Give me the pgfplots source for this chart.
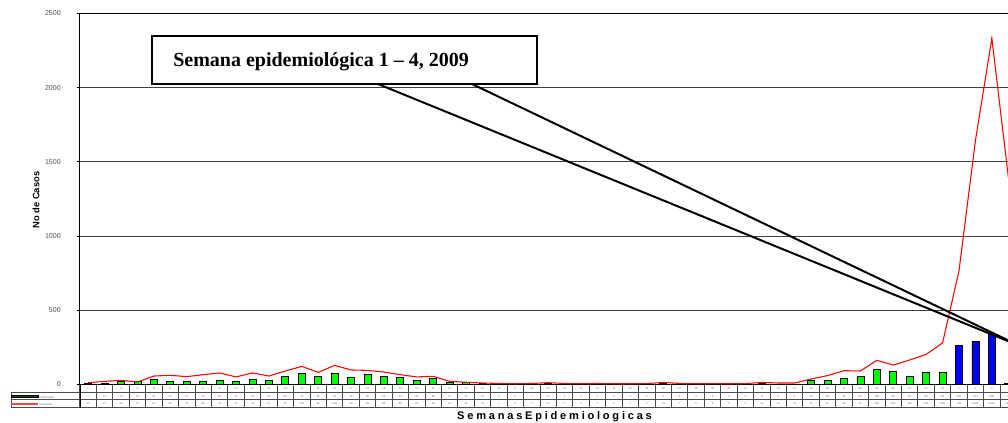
\documentclass[border=0pt]{standalone}
\usepackage{fontspec}
\setmainfont{Liberation Sans}
\newfontfamily\serifbf{Liberation Serif}
\usepackage{pgfplots}
\pgfplotsset{compat=1.18}
\usepackage{pgfplotstable}
\definecolor{barg}{RGB}{0,255,0}
\definecolor{barb}{RGB}{0,0,255}
\definecolor{keyg}{RGB}{0,80,0}
\definecolor{keyr}{RGB}{255,70,70}
\pgfplotstableread{
x c s
0 7 12
1 10 21
2 20 28
3 20 17
4 37 57
5 21 62
6 21 53
7 24 66
8 30 78
9 21 51
10 35 78
11 26 57
12 55 91
13 75 122
14 53 82
15 78 129
16 48 98
17 66 95
18 55 84
19 51 66
20 28 51
21 39 55
22 17 21
23 17 15
24 10 10
25 5 7
26 4 5
27 7 7
28 10 12
29 4 7
30 4 5
31 7 7
32 4 5
33 4 5
34 3 6
35 5 14
36 3 7
37 4 5
38 5 6
39 3 5
40 4 6
41 6 14
42 3 10
43 3 10
44 30 37
45 28 60
46 41 93
47 53 91
48 100 163
49 89 131
50 55 165
51 80 203
52 84 280
53 264 766
54 293 1644
55 345 2333
56 8 1400
}\data
\begin{document}
\begin{tikzpicture}
\path[use as bounding box] (0,0) rectangle (756pt,317.25pt);
\clip (0,0) rectangle (756pt,317.25pt);
\begin{axis}[
  at={(60pt,28.875pt)}, anchor=south west,
  scale only axis, width=714.7pt, height=278.25pt,
  xmin=-0.5, xmax=57.5, ymin=0, ymax=2500,
  ytick={0,500,...,2500},
  tick pos=left,
  ymajorgrids, grid style={black!75, line width=0.8pt},
  axis line style={black, line width=0.75pt},
  tick align=outside, major tick length=2.25pt,
  ytick style={black, line width=0.75pt},
  /pgf/number format/assume math mode=true,
  /pgf/number format/1000 sep={},
  scaled y ticks=false,
  yticklabel style={font=\fontsize{5.3}{6}\selectfont, text=black!70, inner sep=0pt, xshift=-12pt},
  xtick={0,...,56},
  xticklabels={{1\\7\\12},{2\\10\\21},{3\\20\\28},{4\\20\\17},{5\\37\\57},{6\\21\\62},{7\\21\\53},{8\\24\\66},{9\\30\\78},{10\\21\\51},{11\\35\\78},{12\\26\\57},{13\\55\\91},{14\\75\\122},{15\\53\\82},{16\\78\\129},{17\\48\\98},{18\\66\\95},{19\\55\\84},{20\\51\\66},{21\\28\\51},{22\\39\\55},{23\\17\\21},{24\\17\\15},{25\\10\\10},{26\\5\\7},{27\\4\\5},{28\\7\\7},{29\\10\\12},{30\\4\\7},{31\\4\\5},{32\\7\\7},{33\\4\\5},{34\\4\\5},{35\\3\\6},{36\\5\\14},{37\\3\\7},{38\\4\\5},{39\\5\\6},{40\\3\\5},{41\\4\\6},{42\\6\\14},{43\\3\\10},{44\\3\\10},{45\\30\\37},{46\\28\\60},{47\\41\\93},{48\\53\\91},{49\\100\\163},{50\\89\\131},{51\\55\\165},{52\\80\\203},{53\\84\\280},{1\\264\\766},{2\\293\\1644},{3\\345\\2333},{4\\8\\1400}},
  major x tick style={draw=none},
  minor xtick={-0.5,0.5,...,57.5},
  minor x tick style={black!70, line width=0.75pt},
  minor tick length=17.375pt,
  xticklabel style={font=\fontsize{2}{5.7}\selectfont, text=black!60, align=center, anchor=north, inner sep=0pt},
]
\addplot[ybar, bar width=5.25pt, bar shift=0pt, fill=barg, draw=black, line width=0.6pt, restrict x to domain=0:52] table[x=x,y=c]{\data};
\addplot[ybar, bar width=5.25pt, bar shift=0pt, fill=barb, draw=black, line width=0.6pt, restrict x to domain=53:60] table[x=x,y=c]{\data};
\addplot[red, line width=0.8pt, mark=none] table[x=x,y=s]{\data};
\end{axis}
% data table grid
\draw[black!70, line width=0.75pt] (8.25pt,23pt) -- (756pt,23pt);
\draw[black!70, line width=0.75pt] (8.25pt,17.25pt) -- (756pt,17.25pt);
\draw[black!70, line width=0.75pt] (8.25pt,11.5pt) -- (756pt,11.5pt);
\draw[black!70, line width=0.75pt] (8.25pt,11.5pt) -- (8.25pt,23pt);
\draw[black, line width=0.75pt] (60pt,28.875pt) -- (60pt,11.5pt);
% legend keys
\draw[black, fill=keyg, line width=0.4pt] (8.25pt,19.4pt) rectangle (28.5pt,21pt);
\draw[keyr, line width=1.5pt] (8.25pt,14.4pt) -- (28.5pt,14.4pt);
\node[anchor=west, inner sep=0pt, font=\fontsize{2}{3}\selectfont, text=black!60] at (29.25pt,19.3pt) {Confirmados};
\node[anchor=west, inner sep=0pt, font=\fontsize{2}{3}\selectfont, text=black!60] at (29.25pt,13.8pt) {Notificados};
% axis titles
\node[rotate=90, font=\bfseries\fontsize{7}{8}\selectfont] at (27pt,167.25pt) {No de Casos};
\node[anchor=base, inner sep=0pt, font=\bfseries\fontsize{8.3}{9}\selectfont\addfontfeature{LetterSpace=25}] at (415.9pt,2.25pt) {SemanasEpidemiologicas};
% callout
\draw[line width=1.5pt] (283.5pt,254.25pt) -- (765pt,57.75pt);
\draw[line width=1.5pt] (354pt,254.25pt) -- (765pt,57.75pt);
\draw[line width=1.5pt, fill=white] (114pt,254.25pt) rectangle (402.75pt,290.25pt);
\node[anchor=base west, inner sep=0pt, font=\serifbf\bfseries\fontsize{15}{18}\selectfont] at (129.75pt,267pt) {Semana epidemiológica 1 – 4, 2009};
\end{tikzpicture}
\end{document}
